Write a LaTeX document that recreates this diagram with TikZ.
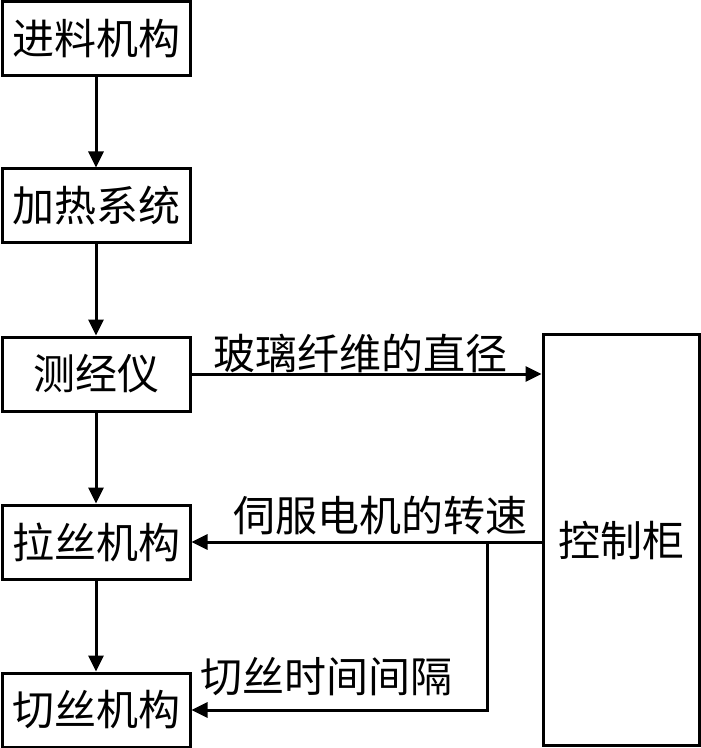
\documentclass[tikz,border=0pt]{standalone}
\usepackage{fontspec}
\setmainfont{Noto Sans CJK SC}
\usetikzlibrary{arrows.meta}
\begin{document}
\begin{tikzpicture}[x=0.5pt,y=-0.5pt,line width=1.5pt,
	unit/.style={draw,minimum width=94pt,minimum height=37pt,inner sep=0pt,font=\fontsize{21pt}{25pt}\selectfont},
	signal/.style={inner sep=0pt,font=\fontsize{21pt}{25pt}\selectfont},
	>={Triangle[length=8pt,width=7.5pt]}]
	\useasboundingbox (0,0) rectangle (700,748);
	\node[unit] (feed) at (96,39) {进料机构};
	\node[unit] (heat) at (96,206) {加热系统};
	\node[unit] (meter) at (96,374) {测经仪};
	\node[unit] (pull) at (96,542) {拉丝机构};
	\node[unit] (cut) at (96,710) {切丝机构};
	\node[unit,minimum width=78pt,minimum height=205.5pt] (ctrl) at (621,540) {控制柜};
	\draw[->] (feed) -- (heat);
	\draw[->] (heat) -- (meter);
	\draw[->] (meter) -- (pull);
	\draw[->] (pull) -- (cut);
	\draw[->] (meter) -- (meter -| ctrl.west);
	\draw[->] (pull -| ctrl.west) -- (pull);
	\coordinate (split) at (487,542);
	\draw[->] (split) |- (cut);
	\node[signal] (dia) at (360,353) {玻璃纤维的直径};
	\node[signal] (speed) at (380,515) {伺服电机的转速};
	\node[signal] (gap) at (326,677) {切丝时间间隔};
\end{tikzpicture}
\end{document}
